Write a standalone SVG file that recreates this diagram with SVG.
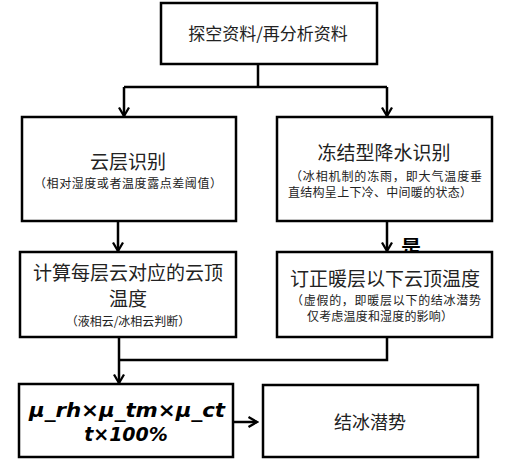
<svg xmlns="http://www.w3.org/2000/svg" width="519" height="464" viewBox="0 0 519 464">
<defs>
<style>
.box{fill:#fff;stroke:#000;stroke-width:2.5}
.t{font-family:"Noto Sans CJK SC","Liberation Sans",sans-serif;fill:#222;text-anchor:middle}
.big{font-size:19px}
.sm{font-size:12px}
.math{font-family:"DejaVu Sans","Verdana",sans-serif;font-weight:bold;font-style:italic;font-size:19px;fill:#000;text-anchor:middle}
.ln{fill:none;stroke:#000;stroke-width:2.5}
</style>
<marker id="ah" viewBox="0 0 12 12" refX="10.5" refY="6" markerWidth="12" markerHeight="12" markerUnits="userSpaceOnUse" orient="auto">
<path d="M2,1 L10.5,6 L2,11" fill="none" stroke="#000" stroke-width="2.3"/>
</marker>
</defs>
<rect width="519" height="464" fill="#fff"/>
<text x="411" y="255" class="t" style="font-size:20px;font-weight:bold;fill:#000">是</text>
<g id="connectors">
<path class="ln" d="M258,64 V87 M124,87 H387"/>
<path class="ln" d="M124,87 V116" marker-end="url(#ah)"/>
<path class="ln" d="M387,87 V116" marker-end="url(#ah)"/>
<path class="ln" d="M118,221 V251" marker-end="url(#ah)"/>
<path class="ln" d="M387,221 V251" marker-end="url(#ah)"/>
<path class="ln" d="M387,337 V360 H119"/>
<path class="ln" d="M119,337 V383" marker-end="url(#ah)"/>
<path class="ln" d="M233,422 H257" marker-end="url(#ah)"/>
</g>
<g id="n1">
<rect class="box" x="161" y="3" width="216" height="61"/>
<text x="268" y="40" class="t" style="font-size:17px">探空资料/再分析资料</text>
</g>
<g id="n2">
<rect class="box" x="22" y="117" width="214" height="104"/>
<text x="128" y="169" class="t big">云层识别</text>
<text x="128" y="188" class="t sm" textLength="188" lengthAdjust="spacing">（相对湿度或者温度露点差阈值）</text>
</g>
<g id="n3">
<rect class="box" x="277" y="117" width="215" height="104"/>
<text x="384" y="160" class="t big">冻结型降水识别</text>
<text x="386" y="181" class="t sm" textLength="192" lengthAdjust="spacing">（冰相机制的冻雨，即大气温度垂</text>
<text x="380" y="197" class="t sm" textLength="184" lengthAdjust="spacing">直结构呈上下冷、中间暖的状态）</text>
</g>
<g id="n4">
<rect class="box" x="20" y="252" width="216" height="85"/>
<text x="128" y="280" class="t big">计算每层云对应的云顶</text>
<text x="128" y="306" class="t big">温度</text>
<text x="128" y="326" class="t sm">（液相云/冰相云判断）</text>
</g>
<g id="n5">
<rect class="box" x="277" y="252" width="215" height="85"/>
<text x="385" y="286" class="t big">订正暖层以下云顶温度</text>
<text x="386" y="305" class="t sm" textLength="190" lengthAdjust="spacing">（虚假的，即暖层以下的结冰潜势</text>
<text x="380" y="321" class="t sm" textLength="146" lengthAdjust="spacing">仅考虑温度和湿度的影响）</text>
</g>
<g id="n6">
<rect class="box" x="19" y="384" width="214" height="73"/>
<text x="127" y="417" class="math" textLength="196" lengthAdjust="spacingAndGlyphs">μ_rh×μ_tm×μ_ct</text>
<text x="126" y="441" class="math">t×100%</text>
</g>
<g id="n7">
<rect class="box" x="263" y="385" width="215" height="72"/>
<text x="370" y="429" class="t" style="font-size:18px">结冰潜势</text>
</g>
</svg>
